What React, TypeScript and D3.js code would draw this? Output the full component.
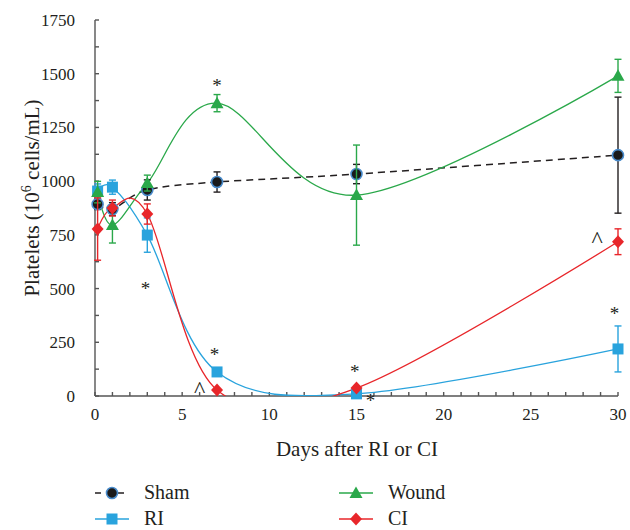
import React from "react";
import * as d3 from "d3";

const days = [0.15, 1, 3, 7, 15, 30];
const shamValues = [893, 870, 959, 996, 1033, 1121];
const shamErrors = [25, 30, 47, 47, 45, 270];
const woundValues = [949, 796, 991, 1363, 935, 1490];
const woundErrors = [50, 84, 37, 40, 233, 77];
const riValues = [954, 972, 749, 112, 10, 219];
const riErrors = [33, 33, 80, 0, 0, 107];
const ciValues = [777, 875, 847, 28, 37, 718];
const ciErrors = [145, 37, 47, 0, 0, 60];

const yTicks = [0, 250, 500, 750, 1000, 1250, 1500, 1750];
const xTicks = [0, 5, 10, 15, 20, 25, 30];

const annotations = [
  { day: 7, value: 1470, sym: "*" },
  { day: 2.9, value: 526, sym: "*" },
  { day: 6.85, value: 219, sym: "*" },
  { day: 6.0, value: 47, sym: "^" },
  { day: 14.9, value: 140, sym: "*" },
  { day: 15.8, value: 5, sym: "*" },
  { day: 28.8, value: 745, sym: "^" },
  { day: 29.8, value: 410, sym: "*" },
];

const FONT = "'Liberation Serif', 'DejaVu Serif', serif";
const TEXT = "#231f20";

const series = [
  { name: "Sham", values: shamValues, errors: shamErrors, color: "#231f20", errColor: "#231f20", marker: "circle", dashed: true },
  { name: "RI", values: riValues, errors: riErrors, color: "#29a3dd", errColor: "#29a3dd", marker: "square", dashed: false },
  { name: "Wound", values: woundValues, errors: woundErrors, color: "#2aa84a", errColor: "#2aa84a", marker: "triangle", dashed: false },
  { name: "CI", values: ciValues, errors: ciErrors, color: "#e8262a", errColor: "#e8262a", marker: "diamond", dashed: false },
];

function Marker({ type, x, y, color }: { type: string; x: number; y: number; color: string }) {
  if (type === "circle") {
    return <circle cx={x} cy={y} r={5.5} fill="#1a1a1a" stroke="#4a8ccc" strokeWidth={1.6} />;
  }
  if (type === "square") {
    return <rect x={x - 5.5} y={y - 5.5} width={11} height={11} fill={color} />;
  }
  if (type === "triangle") {
    return <path d={`M${x},${y - 6.5} L${x + 6.5},${y + 5} L${x - 6.5},${y + 5} Z`} fill={color} />;
  }
  return <path d={`M${x},${y - 6.5} L${x + 6},${y} L${x},${y + 6.5} L${x - 6},${y} Z`} fill={color} />;
}

export default function App() {
  const width = 630;
  const height = 530;
  const x = d3.scaleLinear().domain([0, 30]).range([95, 618]);
  const y = d3.scaleLinear().domain([0, 1750]).range([396, 20]);

  const line = d3
    .line<[number, number]>()
    .x((d) => x(d[0]))
    .y((d) => y(d[1]))
    .curve(d3.curveCardinal.tension(0));

  const minorX = d3.range(0, 31, 1);
  const minorY = d3.range(0, 1751, 125);

  return (
    <svg width={width} height={height} style={{ position: "absolute", left: 0, top: 0 }}>
      <rect width={width} height={height} fill="#fff" />
      <defs>
        <clipPath id="plotclip">
          <rect x={90} y={0} width={540} height={396} />
        </clipPath>
      </defs>

      {/* axes */}
      <g stroke="#555" strokeWidth={1.4} fill="none">
        <line x1={x(0)} x2={x(0)} y1={y(1750)} y2={y(0)} />
        <line x1={x(0)} x2={x(30)} y1={y(0)} y2={y(0)} />
        {minorX.map((t) => (
          <line key={"mx" + t} x1={x(t)} x2={x(t)} y1={y(0)} y2={y(0) - 4} />
        ))}
        {minorY.map((t) => (
          <line key={"my" + t} x1={x(0)} x2={x(0) + 4} y1={y(t)} y2={y(t)} />
        ))}
      </g>
      <g fontFamily={FONT} fontSize={17} fill={TEXT}>
        {yTicks.map((t) => (
          <text key={"yt" + t} x={75} y={y(t) + 6} textAnchor="end">
            {t}
          </text>
        ))}
        {xTicks.map((t) => (
          <text key={"xt" + t} x={x(t)} y={420} textAnchor="middle">
            {t}
          </text>
        ))}
      </g>
      <g fontFamily={FONT} fontSize={21} fill={TEXT}>
        <text x={357} y={456} textAnchor="middle">Days after RI or CI</text>
        <text transform={`translate(39,${198}) rotate(-90)`} textAnchor="middle">
          Platelets (10
          <tspan dy={-8} fontSize={14}>6</tspan>
          <tspan dy={8}> cells/mL)</tspan>
        </text>
      </g>

      {/* lines */}
      <g clipPath="url(#plotclip)">
        {series.map((s) => (
          <path
            key={"l" + s.name}
            d={line(days.map((d, i) => [d, s.values[i]] as [number, number])) || ""}
            fill="none"
            stroke={s.color}
            strokeWidth={s.dashed ? 1.5 : 1.3}
            strokeDasharray={s.dashed ? "7,5" : undefined}
          />
        ))}
      </g>

      {/* error bars and markers */}
      {series.map((s) => (
        <g key={"m" + s.name}>
          {days.map((d, i) =>
            s.errors[i] > 0 ? (
              <g key={i} stroke={s.errColor} strokeWidth={1.4}>
                <line x1={x(d)} x2={x(d)} y1={y(s.values[i] + s.errors[i])} y2={y(s.values[i] - s.errors[i])} />
                <line x1={x(d) - 3.5} x2={x(d) + 3.5} y1={y(s.values[i] + s.errors[i])} y2={y(s.values[i] + s.errors[i])} />
                <line x1={x(d) - 3.5} x2={x(d) + 3.5} y1={y(s.values[i] - s.errors[i])} y2={y(s.values[i] - s.errors[i])} />
              </g>
            ) : null
          )}
          {days.map((d, i) => (
            <Marker key={"mk" + i} type={s.marker} x={x(d)} y={y(s.values[i])} color={s.color} />
          ))}
        </g>
      ))}

      {/* annotations */}
      <g fontFamily={FONT} fill={TEXT}>
        {annotations.map((a, i) => (
          <text
            key={"a" + i}
            x={x(a.day)}
            y={y(a.value) + (a.sym === "*" ? 12 : 11)}
            textAnchor="middle"
            fontSize={a.sym === "*" ? 19 : 24}
          >
            {a.sym}
          </text>
        ))}
      </g>

      {/* legend */}
      <g fontFamily={FONT} fontSize={20} fill={TEXT}>
        {[
          { s: series[0], lx: 95, ly: 493 },
          { s: series[2], lx: 339, ly: 493 },
          { s: series[1], lx: 95, ly: 519 },
          { s: series[3], lx: 339, ly: 519 },
        ].map(({ s, lx, ly }) => (
          <g key={"lg" + s.name}>
            <line
              x1={lx}
              x2={lx + 34}
              y1={ly}
              y2={ly}
              stroke={s.color}
              strokeWidth={1.4}
              strokeDasharray={s.dashed ? "6,5.5" : undefined}
            />
            <Marker type={s.marker} x={lx + 17} y={ly} color={s.color} />
            <text x={lx + 49} y={ly + 6}>{s.name}</text>
          </g>
        ))}
      </g>
    </svg>
  );
}
